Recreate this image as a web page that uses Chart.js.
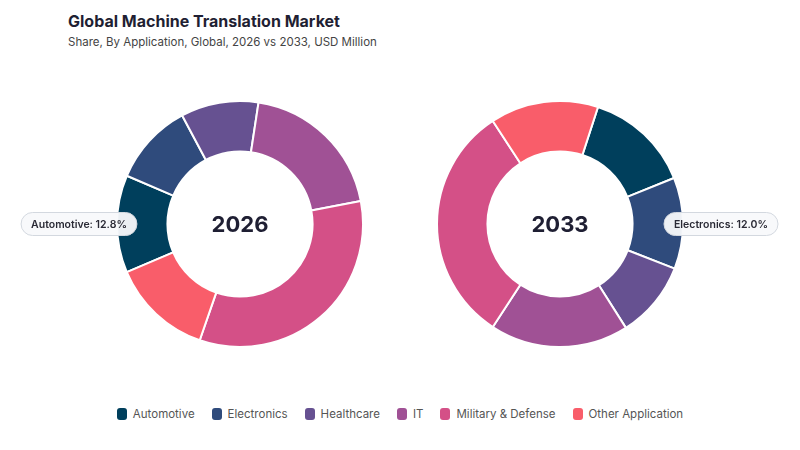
<!DOCTYPE html>
<html>
<head>
<meta charset="utf-8">
<script src="https://cdn.jsdelivr.net/npm/chart.js@4/dist/chart.umd.min.js"></script>
<style>
  html, body { margin: 0; padding: 0; background: #fff; }
  body { width: 800px; height: 450px; position: relative; overflow: hidden; font-family: Inter, "Noto Sans", sans-serif; }
  .title { position: absolute; left: 68px; top: 11px; font-size: 16px; font-weight: 700; color: #1f1f33; }
  .subtitle { position: absolute; left: 68px; top: 35px; font-size: 11.5px; color: #444; }
  .pie { position: absolute; width: 400px; height: 248px; top: 100px; }
  .legend { position: absolute; left: 0; width: 800px; top: 407px; display: flex; justify-content: center; gap: 17px; font-size: 11.5px; color: #555; }
  .legend span.item { display: flex; align-items: center; }
  .legend i { display: inline-block; width: 10px; height: 12px; border-radius: 3px; margin-right: 6px; }
</style>
</head>
<body>
<div class="title">Global Machine Translation Market</div>
<div class="subtitle">Share, By Application, Global, 2026 vs 2033, USD Million</div>
<div class="pie" style="left:0px"><canvas id="c2026"></canvas></div>
<div class="pie" style="left:400px"><canvas id="c2033"></canvas></div>
<div class="legend" id="legend"></div>
<script>
// categories and shares (%)
const categories = ['Automotive', 'Electronics', 'Healthcare', 'IT', 'Military & Defense', 'Other Application'];
const share2026 = [12.8, 10.8, 10.2, 19.6, 33.3, 13.3];
const share2033 = [13.9, 12.0, 10.1, 18.2, 31.6, 14.2];
const colors = ['#003f5c', '#2f4b7c', '#665191', '#a05195', '#d45087', '#f95d6a'];

// center year text + callout pill for one segment
const extras = {
    id: 'extras',
    afterDraw(chart, args, opts) {
        const ctx = chart.ctx;
        const meta = chart.getDatasetMeta(0);
        const arc = meta.data[0];
        const cx = arc.x, cy = arc.y;
        ctx.save();
        ctx.fillStyle = '#1f1f33';
        ctx.font = '700 22px Inter, sans-serif';
        ctx.textAlign = 'center';
        ctx.textBaseline = 'middle';
        ctx.fillText(opts.year, cx, cy + 1);

        // pill label for the highlighted slice
        const el = meta.data[opts.index];
        const mid = (el.startAngle + el.endAngle) / 2;
        const r = el.outerRadius + 38;
        const px = cx + Math.cos(mid) * r;
        const py = cy;
        const text = categories[opts.index] + ': ' + chart.data.datasets[0].data[opts.index].toFixed(1) + '%';
        ctx.font = '600 10.5px Inter, sans-serif';
        const w = ctx.measureText(text).width + 20;
        const h = 23;
        ctx.beginPath();
        ctx.roundRect(px - w / 2, py - h / 2, w, h, h / 2);
        ctx.fillStyle = 'rgba(248,249,251,0.95)';
        ctx.fill();
        ctx.strokeStyle = '#d3d8df';
        ctx.lineWidth = 1;
        ctx.stroke();
        ctx.fillStyle = '#2a2a35';
        ctx.fillText(text, px, py + 0.5);
        ctx.restore();
    }
};

function makeDoughnut(id, values, rotation, year, index, padding) {
    return new Chart(document.getElementById(id), {
        type: 'doughnut',
        data: {
            labels: categories,
            datasets: [{
                data: values,
                backgroundColor: colors,
                borderColor: '#ffffff',
                borderWidth: 2
            }]
        },
        options: {
            responsive: true,
            maintainAspectRatio: false,
            animation: false,
            rotation: rotation,
            cutout: '59%',
            layout: { padding: padding },
            plugins: {
                legend: { display: false },
                tooltip: { enabled: false },
                extras: { year: year, index: index }
            }
        },
        plugins: [extras]
    });
}

// wide canvases so the pills are not clipped; padding puts the ring in place
makeDoughnut('c2026', share2026, 247, '2026', 0, { left: 116, right: 36 });
makeDoughnut('c2033', share2033, 18, '2033', 1, { left: 36, right: 116 });

const legend = document.getElementById('legend');
categories.forEach((name, i) => {
    const item = document.createElement('span');
    item.className = 'item';
    item.innerHTML = '<i style="background:' + colors[i] + '"></i>' + name;
    legend.appendChild(item);
});
</script>
</body>
</html>
